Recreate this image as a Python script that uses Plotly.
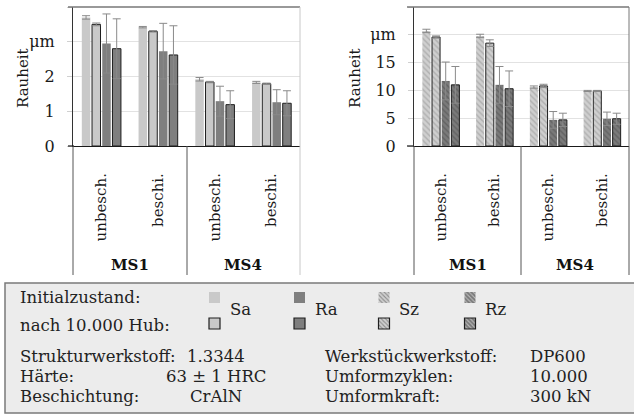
import plotly.graph_objects as go

# ---------------- data ----------------
groups = ["MS1", "MS1", "MS4", "MS4"]
group_names = ["MS1", "MS4"]
conditions = ["unbesch.", "beschi.", "unbesch.", "beschi."]

sa_init = [3.70, 3.42, 1.92, 1.83]
sa_init_err = [0.05, 0.02, 0.05, 0.03]
sa_after = [3.50, 3.30, 1.84, 1.79]
sa_after_err = [0.04, 0.02, 0.02, 0.02]
ra_init = [2.95, 2.73, 1.29, 1.26]
ra_init_err = [0.85, 0.80, 0.43, 0.36]
ra_after = [2.80, 2.62, 1.19, 1.23]
ra_after_err = [0.86, 0.84, 0.40, 0.36]

sz_init = [20.7, 19.8, 10.6, 9.9]
sz_init_err = [0.3, 0.3, 0.2, 0.1]
sz_after = [19.6, 18.5, 10.8, 9.9]
sz_after_err = [0.2, 0.6, 0.3, 0.1]
rz_init = [11.7, 11.0, 4.7, 4.9]
rz_init_err = [3.4, 3.3, 1.5, 1.2]
rz_after = [11.0, 10.3, 4.7, 4.9]
rz_after_err = [3.3, 3.2, 1.2, 1.0]

left_ticks = [0, 1, 2, 3, 4]
left_ticktext = ["0", "1", "2", "μm", "4"]
right_ticks = [0, 5, 10, 15, 20, 25]
right_ticktext = ["0", "5", "10", "15", "μm", "25"]

series_names = ["Sa", "Ra", "Sz", "Rz"]
row_labels = ["Initialzustand:", "nach 10.000 Hub:"]
info_left = [("Strukturwerkstoff:", "1.3344"), ("Härte:", "63 ± 1 HRC"), ("Beschichtung:", "CrAlN")]
info_right = [("Werkstückwerkstoff:", "DP600"), ("Umformzyklen:", "10.000"), ("Umformkraft:", "300 kN")]

# ---------------- styles ----------------
FONT = "DejaVu Serif"
W, H = 634, 414
C_LIGHT = "#c9c9c9"
C_DARK = "#7f7f7f"
PAT_LIGHT_FG = "#8f8f8f"
PAT_DARK_FG = "#4a4a4a"
ERR_C = "#8a8a8a"


def fx(p):
    return p / W


def fy(p):
    return 1 - p / H


xs = list(range(len(conditions)))
fig = go.Figure()


def add_bar(vals, errs, xa, ya, color, outline, pattern=None):
    marker = dict(color=color,
                  line=dict(width=1 if outline else 0, color="#1e1e1e"))
    if pattern:
        marker["pattern"] = dict(shape="\\", fgcolor=pattern, bgcolor=color,
                                 size=4, solidity=0.35)
    fig.add_trace(go.Bar(
        x=xs, y=vals, xaxis=xa, yaxis=ya, marker=marker,
        error_y=dict(type="data", array=errs, color=ERR_C, thickness=1, width=4),
        hoverinfo="skip"))


add_bar(sa_init, sa_init_err, "x", "y", C_LIGHT, False)
add_bar(sa_after, sa_after_err, "x", "y", C_LIGHT, True)
add_bar(ra_init, ra_init_err, "x", "y", C_DARK, False)
add_bar(ra_after, ra_after_err, "x", "y", C_DARK, True)

add_bar(sz_init, sz_init_err, "x2", "y2", "#cfcfcf", False, PAT_LIGHT_FG)
add_bar(sz_after, sz_after_err, "x2", "y2", "#cfcfcf", True, PAT_LIGHT_FG)
add_bar(rz_init, rz_init_err, "x2", "y2", "#7a7a7a", False, PAT_DARK_FG)
add_bar(rz_after, rz_after_err, "x2", "y2", "#7a7a7a", True, PAT_DARK_FG)

# legend swatches drawn as bars on a small pixel-mapped axis inside the legend box
SW_X0, SW_X1, SW_Y0, SW_Y1 = 200, 490, 286, 334
sw_x = [214.5, 299.5, 384, 470]
sw_bg = [C_LIGHT, C_DARK, "#cfcfcf", "#7a7a7a"]
sw_fg = [C_LIGHT, C_DARK, PAT_LIGHT_FG, PAT_DARK_FG]
sw_shape = ["", "", "\\", "\\"]
for top, lw in [(292, 0), (318, 1.2)]:
    fig.add_trace(go.Bar(
        x=sw_x, y=[11] * 4, base=[top] * 4, width=11, offset=-5.5,
        xaxis="x3", yaxis="y3",
        marker=dict(color=sw_bg, line=dict(width=lw, color="#1e1e1e"),
                    pattern=dict(shape=sw_shape, fgcolor=sw_fg, bgcolor=sw_bg,
                                 size=3, solidity=0.35)),
        hoverinfo="skip"))

axis_font = dict(family=FONT, size=16, color="#1a1a1a")
ydef = dict(showgrid=True, gridcolor="#e2e2e2", gridwidth=1, zeroline=False,
            showline=True, linecolor="#333", linewidth=1,
            ticks="outside", ticklen=5, tickcolor="#d0d0d0",
            tickfont=axis_font, ticklabelstandoff=9, automargin=False)
xdef = dict(tickvals=xs, ticktext=conditions, tickangle=-90, range=[-0.5, 3.5],
            showline=True, linecolor="#1a1a1a", linewidth=1.2, ticks="",
            showgrid=False, zeroline=False, automargin=False,
            tickfont=dict(family=FONT, size=15, color="#1a1a1a"),
            ticklabelstandoff=20)

fig.update_layout(
    width=W, height=H, margin=dict(l=0, r=0, t=0, b=0, autoexpand=False),
    paper_bgcolor="white", plot_bgcolor="rgba(0,0,0,0)", showlegend=False,
    barmode="group", bargap=0.28, bargroupgap=0.17,
    xaxis=dict(domain=[fx(73), fx(300)], anchor="y", **xdef),
    yaxis=dict(domain=[fy(146), fy(7)], anchor="x", range=[0, 4],
               tickvals=left_ticks, ticktext=left_ticktext, **ydef),
    xaxis2=dict(domain=[fx(414), fx(629)], anchor="y2", **xdef),
    yaxis2=dict(domain=[fy(146), fy(7)], anchor="x2", range=[0, 25],
                tickvals=right_ticks, ticktext=right_ticktext, **ydef),
    xaxis3=dict(domain=[fx(SW_X0), fx(SW_X1)], range=[SW_X0, SW_X1],
                visible=False, anchor="y3", automargin=False),
    yaxis3=dict(domain=[fy(SW_Y1), fy(SW_Y0)], range=[SW_Y1, SW_Y0],
                visible=False, anchor="x3", automargin=False),
)

shapes = []
# legend box (drawn below everything)
shapes.append(dict(type="rect", xref="paper", yref="paper", layer="below",
                   x0=fx(5), x1=fx(640), y0=fy(413), y1=fy(283),
                   fillcolor="#ececec", line=dict(color="#7a7a7a", width=1.5)))
# chart frames
for x0, x1, rc in [(68, 300, "#c8c8c8"), (407, 629, "#777")]:
    shapes.append(dict(type="line", xref="paper", yref="paper",
                       x0=fx(x0), x1=fx(x1), y0=fy(7), y1=fy(7),
                       line=dict(color="#777", width=1.3)))
    shapes.append(dict(type="line", xref="paper", yref="paper",
                       x0=fx(x1), x1=fx(x1), y0=fy(7), y1=fy(146),
                       line=dict(color=rc, width=1)))
    shapes.append(dict(type="line", xref="paper", yref="paper",
                       x0=fx(x0), x1=fx(x0 + 6), y0=fy(146), y1=fy(146),
                       line=dict(color="#1a1a1a", width=1.2)))
# category group dividers
for xpx, col in [(73, "#555"), (187, "#555"), (300, "#c8c8c8"),
                 (414, "#555"), (521, "#555"), (629, "#555")]:
    shapes.append(dict(type="line", xref="paper", yref="paper",
                       x0=fx(xpx), x1=fx(xpx), y0=fy(146), y1=fy(275),
                       line=dict(color=col, width=1)))
fig.update_layout(shapes=shapes)

ann = []
# group labels
for xa in ["x", "x2"]:
    for i, g in enumerate(group_names):
        ann.append(dict(text="<b>" + g + "</b>", xref=xa, yref="paper",
                        x=2 * i + 0.5, y=fy(265), showarrow=False,
                        font=dict(family=FONT, size=15, color="#111"),
                        xanchor="center", yanchor="middle"))
# y titles
for xpx in [23, 355]:
    ann.append(dict(text="Rauheit", xref="paper", yref="paper", x=fx(xpx), y=fy(78),
                    textangle=-90, showarrow=False,
                    font=dict(family=FONT, size=15, color="#1a1a1a"),
                    xanchor="center", yanchor="middle"))

tfont = dict(family=FONT, size=16.5, color="#222")
ann.append(dict(text=row_labels[0], xref="paper", yref="paper", x=fx(18), y=fy(297),
                xanchor="left", yanchor="middle", showarrow=False, font=tfont))
ann.append(dict(text=row_labels[1], xref="paper", yref="paper", x=fx(18), y=fy(325),
                xanchor="left", yanchor="middle", showarrow=False, font=tfont))
for name, sx in zip(series_names, sw_x):
    ann.append(dict(text=name, xref="paper", yref="paper", x=fx(sx + 13), y=fy(309),
                    xanchor="left", yanchor="middle", showarrow=False, font=tfont))
for i, ((l1, v1), (l2, v2)) in enumerate(zip(info_left, info_right)):
    ypx = 356 + 20 * i
    ann.append(dict(text=l1, xref="paper", yref="paper", x=fx(18), y=fy(ypx),
                    xanchor="left", yanchor="middle", showarrow=False, font=tfont))
    ann.append(dict(text=v1, xref="paper", yref="paper", x=fx(216), y=fy(ypx),
                    xanchor="center", yanchor="middle", showarrow=False, font=tfont))
    ann.append(dict(text=l2, xref="paper", yref="paper", x=fx(323), y=fy(ypx),
                    xanchor="left", yanchor="middle", showarrow=False, font=tfont))
    ann.append(dict(text=v2, xref="paper", yref="paper", x=fx(528), y=fy(ypx),
                    xanchor="left", yanchor="middle", showarrow=False, font=tfont))
fig.update_layout(annotations=ann)

fig.write_html(
    "out.html",
    config={"displayModeBar": False},
    post_script="document.body.style.margin='0px';document.body.style.overflow='hidden';",
)
